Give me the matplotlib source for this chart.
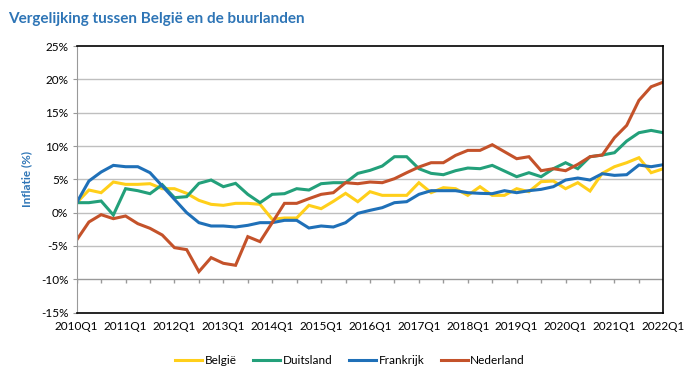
import numpy as np
import matplotlib.pyplot as plt

# kwartalen 2010Q1 .. 2022Q1
kwartalen = [f"{j}Q{q}" for j in range(2010, 2023) for q in range(1, 5)][:49]

belgie = [1.5, 3.4, 3.0, 4.6, 4.25, 4.25, 4.35, 3.6, 3.6, 2.9, 1.85, 1.25, 1.1, 1.4, 1.4, 1.25,
          -1.0, -0.8, -0.8, 1.1, 0.6, 1.7, 2.9, 1.65, 3.15, 2.6, 2.6, 2.6, 4.5, 3.0, 3.75, 3.6,
          2.6, 3.9, 2.6, 2.6, 3.6, 3.15, 4.65, 4.75, 3.6, 4.5, 3.25, 5.9, 6.9, 7.5, 8.25, 6.0, 6.6]
duitsland = [1.5, 1.5, 1.75, -0.35, 3.6, 3.3, 2.85, 4.2, 2.25, 2.4, 4.4, 4.9, 3.9, 4.4, 2.75, 1.5,
             2.75, 2.85, 3.6, 3.4, 4.35, 4.5, 4.5, 5.9, 6.35, 7.0, 8.4, 8.4, 6.6, 5.9, 5.7, 6.3,
             6.7, 6.6, 7.1, 6.25, 5.4, 6.0, 5.4, 6.6, 7.5, 6.6, 8.4, 8.65, 9.0, 10.75, 12.0, 12.35, 12.0]
frankrijk = [1.5, 4.75, 6.1, 7.1, 6.9, 6.9, 6.0, 4.0, 2.0, 0.0, -1.5, -2.0, -2.0, -2.15, -1.9, -1.5,
             -1.5, -1.15, -1.15, -2.3, -2.0, -2.15, -1.5, -0.1, 0.35, 0.75, 1.5, 1.65, 2.75, 3.3, 3.3, 3.3,
             3.0, 2.9, 2.85, 3.3, 3.0, 3.3, 3.5, 3.9, 4.9, 5.2, 4.9, 5.85, 5.6, 5.7, 7.15, 6.9, 7.2]
nederland = [-4.1, -1.4, -0.3, -0.9, -0.5, -1.65, -2.35, -3.35, -5.25, -5.55, -8.85, -6.75, -7.6, -7.9, -3.6, -4.35,
             -1.5, 1.4, 1.4, 2.1, 2.75, 3.0, 4.5, 4.35, 4.6, 4.5, 5.1, 6.0, 6.85, 7.5, 7.5, 8.6,
             9.35, 9.35, 10.2, 9.15, 8.1, 8.4, 6.3, 6.6, 6.3, 7.25, 8.4, 8.65, 11.25, 13.1, 16.85, 18.9, 19.6]

reeksen = {"België": belgie, "Duitsland": duitsland, "Frankrijk": frankrijk, "Nederland": nederland}
kleuren = {"België": "#FFCF1A", "Duitsland": "#23A07A", "Frankrijk": "#1F70B8", "Nederland": "#C4522A"}

plt.rcParams['font.family'] = ['Lato', 'DejaVu Sans']

fig = plt.figure(figsize=(6.99, 3.78), dpi=100)
ax = fig.add_axes([0.1097, 0.173, 0.8393, 0.705])

x = np.arange(len(kwartalen))
for naam, waarden in reeksen.items():
    ax.plot(x, waarden, color=kleuren[naam], lw=2.2, label=naam, solid_joinstyle='miter')

ax.set_xlim(0, len(kwartalen) - 1)
ax.set_ylim(-15, 25)

# rasterlijnen
for v in range(-5, 25, 5):
    ax.axhline(v, color="#BFBFBF", lw=1, zorder=0)
# horizontale as op -10%
ax.axhline(-10, color="#999999", lw=1, zorder=0)
ax.vlines(x[::2], -10.6, -10, color="#999999", lw=1)

ax.set_xticks(x[::4])
ax.set_xticklabels(kwartalen[::4], fontsize=8.5)
ax.tick_params(axis='x', length=0, pad=6)
ax.set_yticks(range(-15, 30, 5))
ax.set_yticklabels([f"{v}%" for v in range(-15, 30, 5)], fontsize=8.5)
ax.tick_params(axis='y', length=3, color="#999999", pad=3)

for s in ['top', 'right', 'bottom']:
    ax.spines[s].set_color('black')
    ax.spines[s].set_linewidth(1.2)
ax.spines['left'].set_color('#999999')

ax.set_ylabel("Inflatie (%)", color="#2E75B6", fontweight='bold', fontsize=8.5, labelpad=6)

fig.text(0.012, 0.95, "Vergelijking tussen België en de buurlanden", color="#2E75B6",
         fontweight='bold', fontsize=11, va='center')

ax.legend(loc='upper center', bbox_to_anchor=(0.466, -0.12), ncol=4, frameon=False,
          fontsize=8.5, handlelength=2.3, columnspacing=1.4, handletextpad=0.2)

fig.savefig("out.png", dpi=100)
